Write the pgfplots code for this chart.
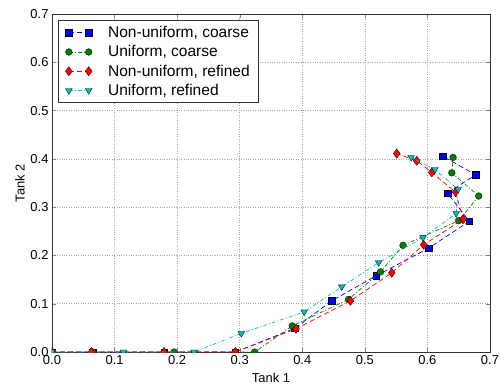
\documentclass[border=0pt]{standalone}
\usepackage{fontspec}
\setmainfont{Liberation Sans}
\usepackage{pgfplots}
\pgfplotsset{compat=1.18}
\definecolor{mblue}{rgb}{0,0,1}
\definecolor{mgreen}{rgb}{0,0.5,0}
\definecolor{mred}{rgb}{1,0,0}
\definecolor{mcyan}{rgb}{0,0.75,0.75}
\begin{document}
\begin{tikzpicture}
\useasboundingbox (-52bp,-33bp) rectangle (449bp,352bp);
\begin{axis}[
  scale only axis, width=438bp, height=338bp,
  xmin=0, xmax=0.7, ymin=0, ymax=0.7,
  xtick={0,0.1,...,0.7}, ytick={0,0.1,...,0.7},
  /pgf/number format/assume math mode=true,
  xticklabel style={/pgf/number format/fixed, /pgf/number format/fixed zerofill, /pgf/number format/precision=1},
  yticklabel style={/pgf/number format/fixed, /pgf/number format/fixed zerofill, /pgf/number format/precision=1},
  tick label style={font=\fontsize{13}{15}\selectfont},
  label style={font=\fontsize{13}{15}\selectfont},
  xlabel={Tank 1}, ylabel={Tank 2},
  xlabel style={yshift=-2bp},
  ylabel style={yshift=-1bp},
  tick align=inside, major tick length=4bp,
  xtick pos=both, ytick pos=both,
  grid=major, major grid style={gray!70, dotted, line width=0.6bp},
  axis line style={black!80, line width=0.8bp},
  clip marker paths=true,
  legend cell align=left,
  legend style={at={(0,1)}, xshift=6bp, yshift=-6bp, anchor=north west,
    font=\fontsize{15.6}{18}\selectfont, draw=black!80, line width=0.8bp,
    inner xsep=7bp, inner ysep=4bp, row sep=2.5bp,
    /tikz/every odd column/.append style={column sep=14bp}},
  legend image code/.code={\draw[mark repeat=2,mark phase=1] plot coordinates {(0cm,0cm) (0.35cm,0cm) (0.7cm,0cm)};},
]
\addplot[mblue, line width=0.7bp, dash pattern=on 5bp off 3bp, mark=square*, mark size=3.3bp,
  mark options={solid, fill=mblue, draw=black, line width=0.3bp}] coordinates {
 (0,0) (0.065,0) (0.179,0) (0.293,0) (0.388,0.049) (0.447,0.106) (0.518,0.158)
 (0.602,0.215) (0.667,0.271) (0.632,0.329) (0.677,0.367) (0.624,0.406)};
\addlegendentry{Non-uniform, coarse}
\addplot[mgreen, line width=0.7bp, dash pattern=on 4bp off 2bp on 1bp off 2bp, mark=*, mark size=3.4bp,
  mark options={solid, fill=mgreen, draw=black, line width=0.3bp}] coordinates {
 (0,0) (0.065,0) (0.195,0) (0.324,0) (0.384,0.054) (0.474,0.109) (0.525,0.166)
 (0.561,0.221) (0.650,0.272) (0.682,0.323) (0.639,0.371) (0.641,0.403)};
\addlegendentry{Uniform, coarse}
\addplot[mred, line width=0.7bp, dash pattern=on 5bp off 3bp, mark=diamond*, mark size=4.6bp,
  mark options={solid, fill=mred, draw=black, line width=0.3bp}] coordinates {
 (0,0) (0.063,0) (0.179,0) (0.293,0) (0.390,0.048) (0.477,0.106) (0.543,0.164)
 (0.594,0.222) (0.657,0.275) (0.645,0.331) (0.607,0.372) (0.583,0.396) (0.551,0.411)};
\addlegendentry{Non-uniform, refined}
\addplot[mcyan, line width=0.7bp, dash pattern=on 4bp off 2bp on 1bp off 2bp, mark=triangle*, mark size=3.9bp,
  mark options={solid, rotate=180, fill=mcyan, draw=black, line width=0.3bp}] coordinates {
 (0,0) (0.114,0) (0.227,0) (0.3026,0.0386) (0.403,0.083) (0.463,0.135) (0.522,0.185)
 (0.593,0.237) (0.646,0.287) (0.649,0.337) (0.612,0.378) (0.574,0.403)};
\addlegendentry{Uniform, refined}
\end{axis}
\end{tikzpicture}
\end{document}
